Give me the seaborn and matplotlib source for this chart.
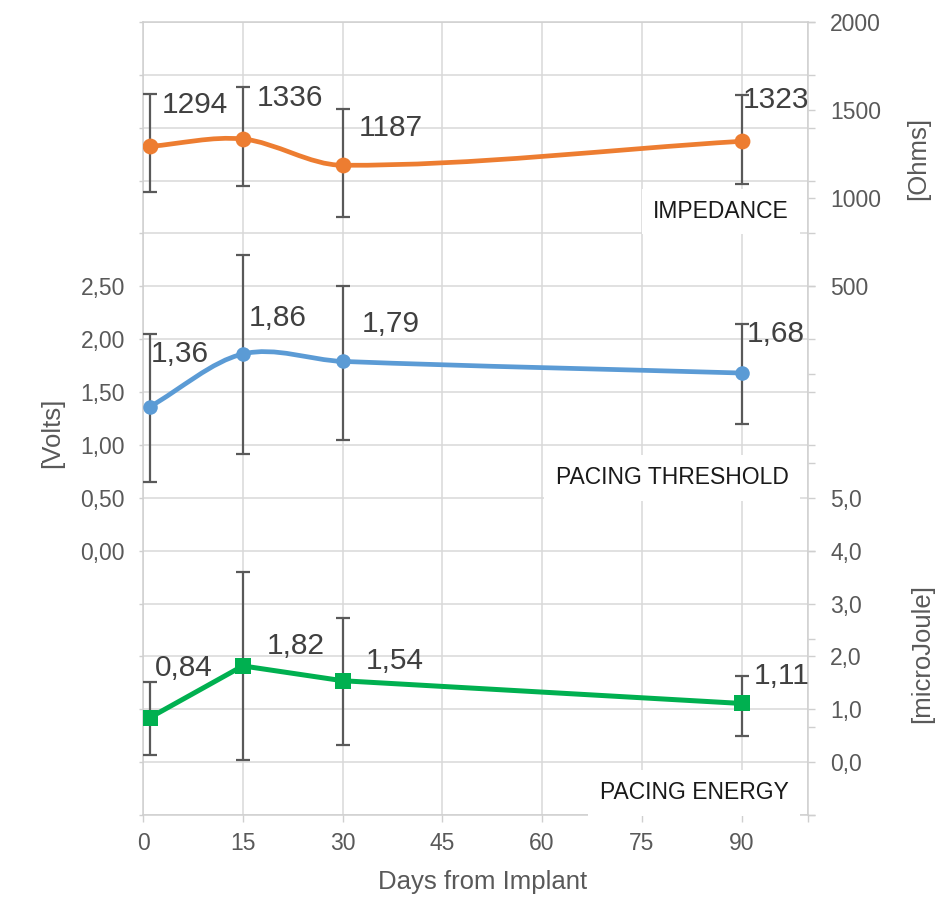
import numpy as np
import matplotlib
matplotlib.use("Agg")
import matplotlib.pyplot as plt
from matplotlib.path import Path
from matplotlib.patches import PathPatch
from matplotlib.ticker import FixedLocator, FuncFormatter
import seaborn as sns

# === Data ===
days = [1, 15, 30, 90]

impedance = [1294, 1336, 1187, 1323]
impedance_lo = [1034, 1072, 891, 1080]
impedance_hi = [1591, 1629, 1507, 1587]

threshold = [1.36, 1.86, 1.79, 1.68]
threshold_lo = [0.65, 0.91, 1.05, 1.20]
threshold_hi = [2.05, 2.80, 2.50, 2.14]

energy = [0.84, 1.82, 1.54, 1.11]
energy_lo = [0.13, 0.04, 0.33, 0.50]
energy_hi = [1.52, 3.59, 2.72, 1.63]

x_ticks = [0, 15, 30, 45, 60, 75, 90, 100]

# === Style ===
sns.set_theme(style="white")
plt.rcParams["font.family"] = ["Liberation Sans", "DejaVu Sans"]

ORANGE = "#ED7D31"
BLUE = "#5B9BD5"
GREEN = "#00B050"
GRID = "#d9d9d9"
TICK_TXT = "#595959"
LABEL_TXT = "#404040"
ERR = "#595959"


def smooth_path(xs, ys):
    # smoothed line like Excel: cubic Hermite segments (tangent from neighbours) as Beziers
    x = np.asarray(xs, float)
    y = np.asarray(ys, float)
    n = len(x)
    m = np.empty(n)
    m[0] = (y[1] - y[0]) / (x[1] - x[0])
    m[-1] = (y[-1] - y[-2]) / (x[-1] - x[-2])
    m[1:-1] = (y[2:] - y[:-2]) / (x[2:] - x[:-2])
    verts = [(x[0], y[0])]
    codes = [Path.MOVETO]
    for i in range(n - 1):
        h = (x[i + 1] - x[i]) / 3
        verts += [(x[i] + h, y[i] + m[i] * h),
                  (x[i + 1] - h, y[i + 1] - m[i + 1] * h),
                  (x[i + 1], y[i + 1])]
        codes += [Path.CURVE4] * 3
    return Path(verts, codes)


def comma(fmt, lo, hi):
    def f(v, pos):
        if v < lo - 1e-9 or v > hi + 1e-9:
            return ""
        return format(v, fmt).replace(".", ",")
    return FuncFormatter(f)


def err(vals, lo, hi):
    v = np.array(vals)
    return [v - np.array(lo), np.array(hi) - v]


fig = plt.figure(figsize=(9.38, 8.97), dpi=100)
ax = fig.add_axes([0.1525, 0.0914, 0.709, 0.8841])
ax2 = ax.twinx()
ax3 = ax.twinx()

ax.set_xlim(0, 100)
ax.set_ylim(-2.5, 5)
ax2.set_ylim(-2500, 2000)
ax3.set_ylim(-1, 14)

# === Grid / spines / ticks ===
ax.grid(True, color=GRID, lw=1.1)
ax.set_axisbelow(True)
for s in ax.spines.values():
    s.set_color("#cfcfcf")
    s.set_linewidth(1.1)
for a in (ax2, ax3):
    for s in a.spines.values():
        s.set_visible(False)

ax.xaxis.set_major_locator(FixedLocator(x_ticks))
ax.xaxis.set_major_formatter(FuncFormatter(lambda v, p: "" if v > 90 else f"{v:.0f}"))
ax.yaxis.set_major_locator(FixedLocator(np.arange(-2.5, 5.01, 0.5)))
ax.yaxis.set_major_formatter(comma(".2f", 0, 2.5))
ax2.yaxis.set_major_locator(FixedLocator(np.arange(-2500, 2001, 500)))
ax2.yaxis.set_major_formatter(comma(".0f", 500, 2000))
ax3.yaxis.set_major_locator(FixedLocator(np.arange(-1, 14.1, 1)))
ax3.yaxis.set_major_formatter(comma(".1f", 0, 5))

ax.tick_params(axis="x", bottom=True, length=5, width=1, color="#cfcfcf",
               labelsize=16.5, labelcolor=TICK_TXT, pad=7)
ax.tick_params(axis="y", left=True, length=3, width=1, color="#cfcfcf",
               labelsize=16.5, labelcolor=TICK_TXT, pad=10)
for a in (ax2, ax3):
    a.tick_params(axis="y", right=True, length=5, width=1, color="#cfcfcf",
                  labelsize=16.5, labelcolor=TICK_TXT, pad=11)

# === Impedance (Ohms, right axis) ===
ax2.add_patch(PathPatch(smooth_path(days, impedance), fill=False,
                        edgecolor=ORANGE, lw=3.4, zorder=3))
ax2.errorbar(days, impedance, yerr=err(impedance, impedance_lo, impedance_hi),
             fmt="none", ecolor=ERR, elinewidth=1.6, capsize=5, capthick=1.6, zorder=4)
sns.scatterplot(x=days, y=impedance, ax=ax2, color=ORANGE, s=130, marker="o",
                linewidth=0, zorder=5)

# === Pacing threshold (Volts, left axis) ===
ax.add_patch(PathPatch(smooth_path(days, threshold), fill=False,
                       edgecolor=BLUE, lw=3.4, zorder=3))
ax.errorbar(days, threshold, yerr=err(threshold, threshold_lo, threshold_hi),
            fmt="none", ecolor=ERR, elinewidth=1.6, capsize=5, capthick=1.6, zorder=4)
sns.scatterplot(x=days, y=threshold, ax=ax, color=BLUE, s=110, marker="o",
                linewidth=0, zorder=5)

# === Pacing energy (microJoule, right axis) ===
sns.lineplot(x=days, y=energy, ax=ax3, color=GREEN, lw=3.6, zorder=3)
ax3.errorbar(days, energy, yerr=err(energy, energy_lo, energy_hi),
             fmt="none", ecolor=ERR, elinewidth=1.6, capsize=5, capthick=1.6, zorder=4)
sns.scatterplot(x=days, y=energy, ax=ax3, color=GREEN, s=140, marker="s",
                linewidth=0, zorder=5)

# === Data labels ===
imp_off = [(9, 30), (10, 29.5), (12, 26.5), (1, 29.5)]
thr_off = [(1, 38), (4, 26), (14, 27), (4, 28)]
ene_off = [(4, 36), (17, 14.5), (17, 14.5), (9, 19.5)]
for a, vals, offs, fmt in ((ax2, impedance, imp_off, ".0f"),
                           (ax, threshold, thr_off, ".2f"),
                           (ax3, energy, ene_off, ".2f")):
    for d, v, (dx, dy) in zip(days, vals, offs):
        a.annotate(format(v, fmt).replace(".", ","), (d, v), xytext=(dx, dy),
                   textcoords="offset points", ha="left", va="center",
                   fontsize=21.5, color=LABEL_TXT, zorder=6)

# === Series name boxes ===
for name, yfrac in (("IMPEDANCE", 0.761), ("PACING THRESHOLD", 0.425),
                    ("PACING ENERGY", 0.028)):
    ax3.text(0.971, yfrac, name, transform=ax3.transAxes, ha="right", va="center",
             fontsize=16.5, color="#1a1a1a", zorder=7,
             bbox=dict(facecolor="white", edgecolor="none", boxstyle="square,pad=0.5"))

for a in (ax, ax2, ax3):
    a.set_xlabel("")
    a.set_ylabel("")

fig.text(52 / 938, 1 - 433 / 897, "[Volts]", rotation=90, ha="center", va="center",
         fontsize=18.5, color=TICK_TXT)
fig.text(918 / 938, 1 - 158 / 897, "[Ohms]", rotation=90, ha="center", va="center",
         fontsize=18.5, color=TICK_TXT)
fig.text(922 / 938, 1 - 653 / 897, "[microJoule]", rotation=90, ha="center", va="center",
         fontsize=18.5, color=TICK_TXT)
fig.text(483 / 938, 1 - 882 / 897, "Days from Implant", ha="center", va="center",
         fontsize=18.5, color=TICK_TXT)

fig.savefig("out.png", dpi=100)
